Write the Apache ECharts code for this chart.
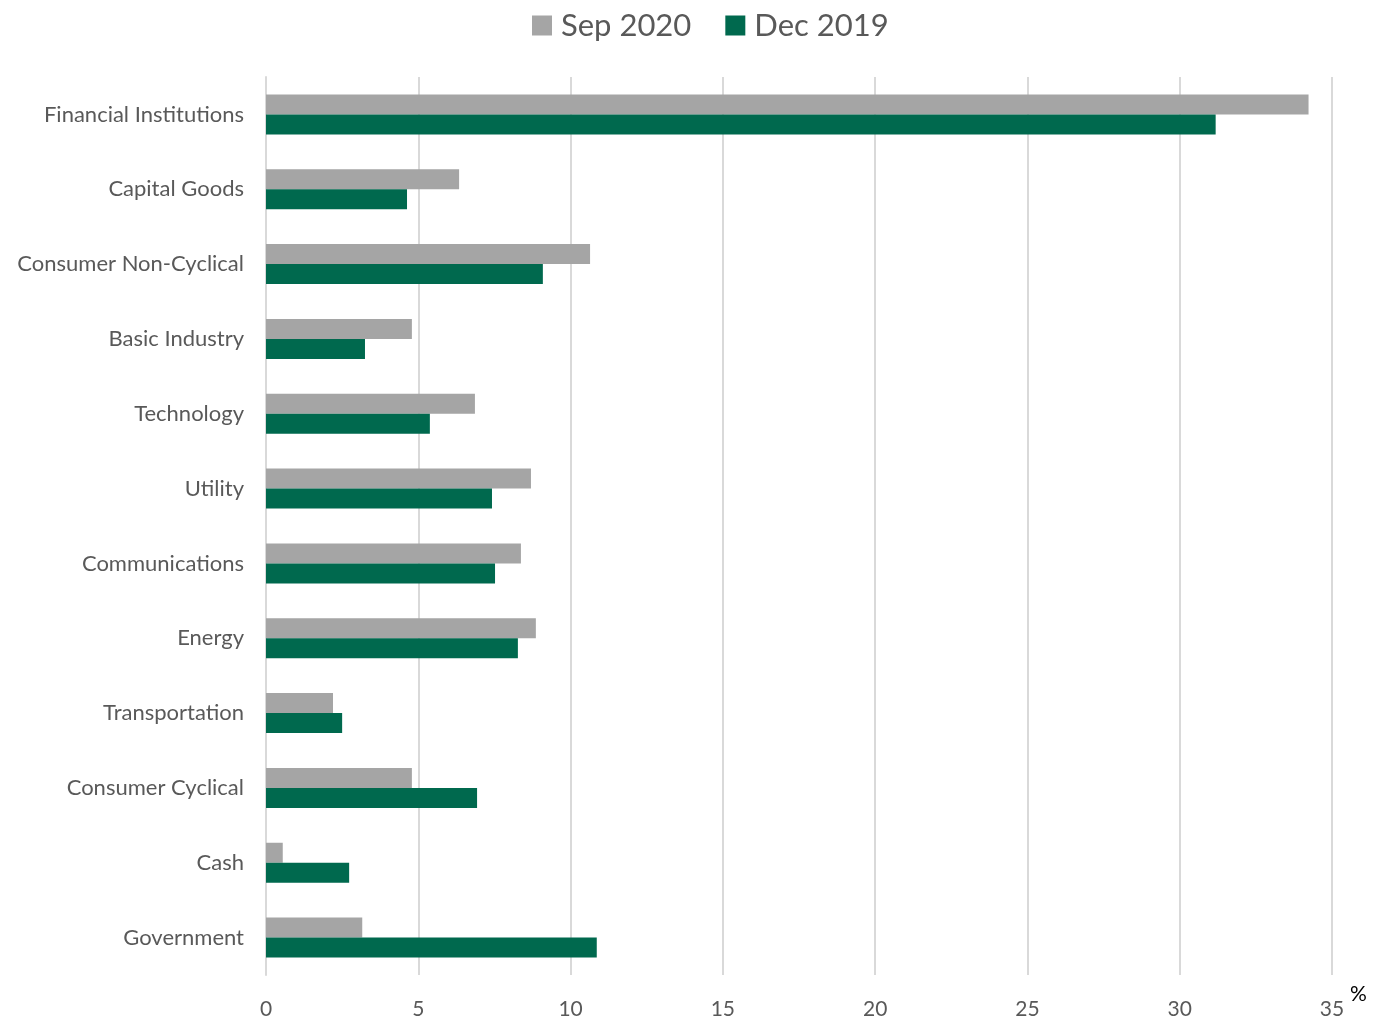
<!DOCTYPE html>
<html>
<head>
<meta charset="utf-8">
<script src="https://cdn.jsdelivr.net/npm/echarts@6/dist/echarts.min.js"></script>
<style>html,body{margin:0;padding:0;background:#fff;}#c{width:1374px;height:1024px;}</style>
</head>
<body>
<div id="c"></div>
<script>
const categories = ["Financial Institutions","Capital Goods","Consumer Non-Cyclical","Basic Industry","Technology","Utility","Communications","Energy","Transportation","Consumer Cyclical","Cash","Government"];
const sep2020 = [34.23, 6.34, 10.64, 4.79, 6.86, 8.70, 8.37, 8.86, 2.20, 4.79, 0.55, 3.16];
const dec2019 = [31.18, 4.63, 9.09, 3.25, 5.38, 7.42, 7.52, 8.27, 2.50, 6.93, 2.73, 10.86];
const seriesNames = ["Sep 2020", "Dec 2019"];

const font = "Lato, 'Open Sans', 'Noto Sans', sans-serif";
const chart = echarts.init(document.getElementById('c'));
chart.setOption({
  animation: false,
  textStyle: { fontFamily: font },
  legend: {
    top: 5, left: 527,
    itemWidth: 20, itemHeight: 20, itemGap: 34,
    icon: 'rect',
    textStyle: { fontSize: 31, color: '#595959', fontFamily: font, padding: [0, 0, 0, 4] },
    data: seriesNames
  },
  grid: { left: 266, right: 42, top: 77, bottom: 49 },
  xAxis: {
    type: 'value', min: 0, max: 35, interval: 5,
    axisLine: { show: false },
    axisTick: { show: false },
    splitLine: { show: true, lineStyle: { color: '#d9d9d9', width: 2 } },
    axisLabel: { fontSize: 21, color: '#595959', margin: 24, fontFamily: font }
  },
  yAxis: {
    type: 'category', data: categories, inverse: true,
    axisLine: { show: true, lineStyle: { color: '#d9d9d9', width: 2 } },
    axisTick: { show: false },
    axisLabel: { fontSize: 22, color: '#595959', margin: 22, fontFamily: font }
  },
  graphic: [{
    type: 'text', left: 1350, top: 984,
    style: { text: '%', fontSize: 21, fill: '#000', fontFamily: font }
  }],
  series: [
    { name: seriesNames[0], type: 'bar', data: sep2020, barWidth: 20, barGap: '0%',
      itemStyle: { color: '#a5a5a5' } },
    { name: seriesNames[1], type: 'bar', data: dec2019, barWidth: 20, barGap: '0%',
      itemStyle: { color: '#00694e' } }
  ]
});
</script>
</body>
</html>
